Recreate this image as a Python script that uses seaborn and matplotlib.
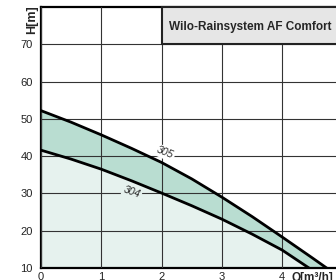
import numpy as np
import pandas as pd
import seaborn as sns
import matplotlib.pyplot as plt
from matplotlib.patches import Rectangle

# pump curves (Q in m3/h, H in m)
q = [0, 0.5, 1, 1.5, 2, 2.5, 3, 3.5, 4, 4.5, 5]
h_305 = [52.2, 49.1, 45.7, 42.1, 38.3, 33.9, 29.0, 23.8, 18.3, 12.7, 7.0]
h_304 = [41.6, 39.2, 36.5, 33.4, 30.1, 26.7, 23.1, 19.1, 14.8, 9.4, 4.0]
x_ticks = [0, 1, 2, 3, 4]
y_ticks = [10, 20, 30, 40, 50, 60, 70]
title = "Wilo-Rainsystem AF Comfort"

sns.set_style("white")
plt.rcParams['font.family'] = ['Liberation Sans', 'DejaVu Sans']

df = pd.DataFrame({"Q": q * 2,
                   "H": h_305 + h_304,
                   "type": ["305"] * len(q) + ["304"] * len(q)})

fig = plt.figure(figsize=(3.36, 2.8), dpi=100)
ax = fig.add_axes([41 / 336, 12 / 280, 301.5 / 336, 261 / 280])

dark = "#b9ddd1"
light = "#e6f2ee"
ax.fill_between(q, 0, h_304, color=light, lw=0, zorder=1)
ax.fill_between(q, h_304, h_305, color=dark, lw=0, zorder=1)

ax.set_xlim(0, 5)
ax.set_ylim(10, 80)
ax.set_xticks(x_ticks)
ax.set_yticks(y_ticks)
ax.grid(True, color="#333333", lw=0.8, zorder=2)
ax.set_axisbelow(False)

sns.lineplot(data=df, x="Q", y="H", hue="type", palette=["black", "black"],
             lw=2.0, legend=False, ax=ax, zorder=4)

for s in ax.spines.values():
    s.set_color("black")
    s.set_linewidth(1.6)

ax.tick_params(length=0, labelsize=8, colors="#222222")
ax.tick_params(axis="y", pad=6)
ax.tick_params(axis="x", pad=3)
ax.set_xlabel("")
ax.set_ylabel("")

# curve labels
ax.text(2.06, 40.9, "305", rotation=-22, fontsize=7.5, style="italic",
        ha="center", va="center", zorder=5,
        bbox=dict(facecolor="white", edgecolor="none", pad=1))
ax.text(1.51, 30.4, "304", rotation=-20, fontsize=7.5, style="italic",
        ha="center", va="center", zorder=5,
        bbox=dict(facecolor=light, edgecolor="none", pad=1))

# title box in the top row
ax.add_patch(Rectangle((2, 70), 3.2, 10, facecolor="#e6e6e6",
                       edgecolor="#222222", lw=1.5, zorder=6, clip_on=False))
ax.text(2.12, 74.7, title, fontsize=8.5, fontweight="bold",
        ha="left", va="center", zorder=7)

# axis labels
ax.text(-0.15, 76.6, "H[m]", rotation=90, fontsize=9, fontweight="bold",
        ha="center", va="center", clip_on=False)
ax.text(4.15, 7.4, "Q[m³/h]", fontsize=8.5, fontweight="bold",
        ha="left", va="center", clip_on=False)

fig.savefig("out.png", dpi=100)
